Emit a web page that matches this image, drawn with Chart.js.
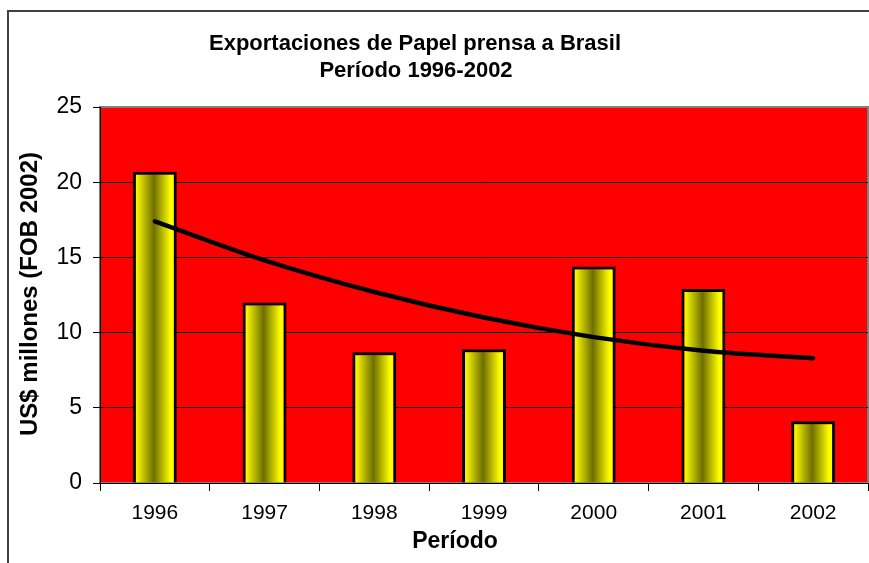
<!DOCTYPE html>
<html>
<head>
<meta charset="utf-8">
<script src="https://cdn.jsdelivr.net/npm/chart.js@4"></script>
<style>
  html, body { margin: 0; padding: 0; background: #fff; }
  #wrap { width: 869px; height: 563px; }
</style>
</head>
<body>
<div id="wrap"><canvas id="myChart" width="869" height="563"></canvas></div>
<script>
const years = ["1996", "1997", "1998", "1999", "2000", "2001", "2002"];
const exportValues = [20.7, 12.0, 8.7, 8.9, 14.4, 12.9, 4.1];
const trendValues = [17.4, 14.8, 12.7, 11.0, 9.7, 8.8, 8.3];
const yTicks = [0, 5, 10, 15, 20, 25];

const FONT = "'Liberation Sans', Arial, sans-serif";
Chart.defaults.font.family = FONT;
Chart.defaults.color = "#000";

// frame, red plot area and the texts placed like the original
const decor = {
  id: "decor",
  beforeDraw(chart) {
    const c = chart.ctx;
    const a = chart.chartArea;
    c.save();
    c.strokeStyle = "#404040";
    c.lineWidth = 2;
    c.beginPath();
    c.moveTo(8, 600);
    c.lineTo(8, 11);
    c.lineTo(900, 11);
    c.stroke();
    c.fillStyle = "#ff0000";
    c.fillRect(a.left, a.top, a.right - a.left, a.bottom - a.top);
    c.strokeStyle = "#808080";
    c.lineWidth = 2;
    c.strokeRect(a.left, a.top, a.right - a.left, a.bottom - a.top);
    c.restore();
  },
  afterDraw(chart) {
    const c = chart.ctx;
    c.save();
    c.fillStyle = "#000";
    c.textAlign = "center";
    c.textBaseline = "alphabetic";
    c.font = "bold 22px " + FONT;
    c.fillText("Exportaciones de Papel prensa a Brasil", 415, 50);
    c.fillText("Período 1996-2002", 416, 77);
    c.font = "bold 23px " + FONT;
    c.fillText("Período", 455, 548);
    c.font = "bold 24px " + FONT;
    c.translate(37, 294);
    c.rotate(-Math.PI / 2);
    c.fillText("US$ millones (FOB 2002)", 0, 0);
    c.restore();
  }
};

function barGradient(ctx) {
  const chart = ctx.chart;
  const xs = chart.scales.x;
  if (!xs || ctx.dataIndex === undefined) return "#ffff00";
  const cx = xs.getPixelForValue(ctx.dataIndex);
  const w = (xs.width / years.length) * 0.4;
  if (!isFinite(cx) || !isFinite(w) || w <= 0) return "#ffff00";
  const g = chart.ctx.createLinearGradient(cx - w / 2, 0, cx + w / 2, 0);
  g.addColorStop(0, "#ffff00");
  g.addColorStop(0.1, "#f4f400");
  g.addColorStop(0.48, "#6e6e00");
  g.addColorStop(0.86, "#ffff00");
  g.addColorStop(1, "#ffff00");
  return g;
}

const ctx = document.getElementById("myChart");

new Chart(ctx, {
  data: {
    labels: years,
    datasets: [
      {
        type: "line",
        label: "Tendencia",
        data: trendValues,
        borderColor: "#000",
        borderWidth: 4.5,
        borderCapStyle: "round",
        pointRadius: 0,
        cubicInterpolationMode: "monotone",
        order: 0,
      },
      {
        type: "bar",
        label: "Exportaciones",
        data: exportValues,
        backgroundColor: barGradient,
        borderColor: "#000",
        borderWidth: 3,
        categoryPercentage: 1,
        barPercentage: 0.4,
        order: 1,
      },
    ],
  },
  options: {
    responsive: false,
    animation: false,
    layout: {
      padding: { top: 107, right: 1, left: 0, bottom: 0 },
    },
    plugins: {
      legend: { display: false },
      tooltip: { enabled: false },
      title: { display: false },
    },
    scales: {
      x: {
        grid: {
          offset: true,
          drawOnChartArea: false,
          tickLength: 8,
          color: "#000",
        },
        border: { color: "#000", width: 1 },
        ticks: {
          font: { size: 21 },
          padding: 10,
          maxRotation: 0,
        },
        afterFit(s) { s.height = 80; },
      },
      y: {
        min: 0,
        max: 25,
        afterBuildTicks(s) { s.ticks = yTicks.map(v => ({ value: v })); },
        grid: {
          color: (c) => (c.tick && c.tick.value === 25 ? "#808080" : "#000"),
          tickColor: "#000",
          tickLength: 7,
          lineWidth: 1,
        },
        border: { color: "#000", width: 1 },
        ticks: {
          font: { size: 23 },
          padding: 11,
        },
        afterFit(s) { s.width = 100; },
      },
    },
  },
  plugins: [decor],
});
</script>
</body>
</html>
